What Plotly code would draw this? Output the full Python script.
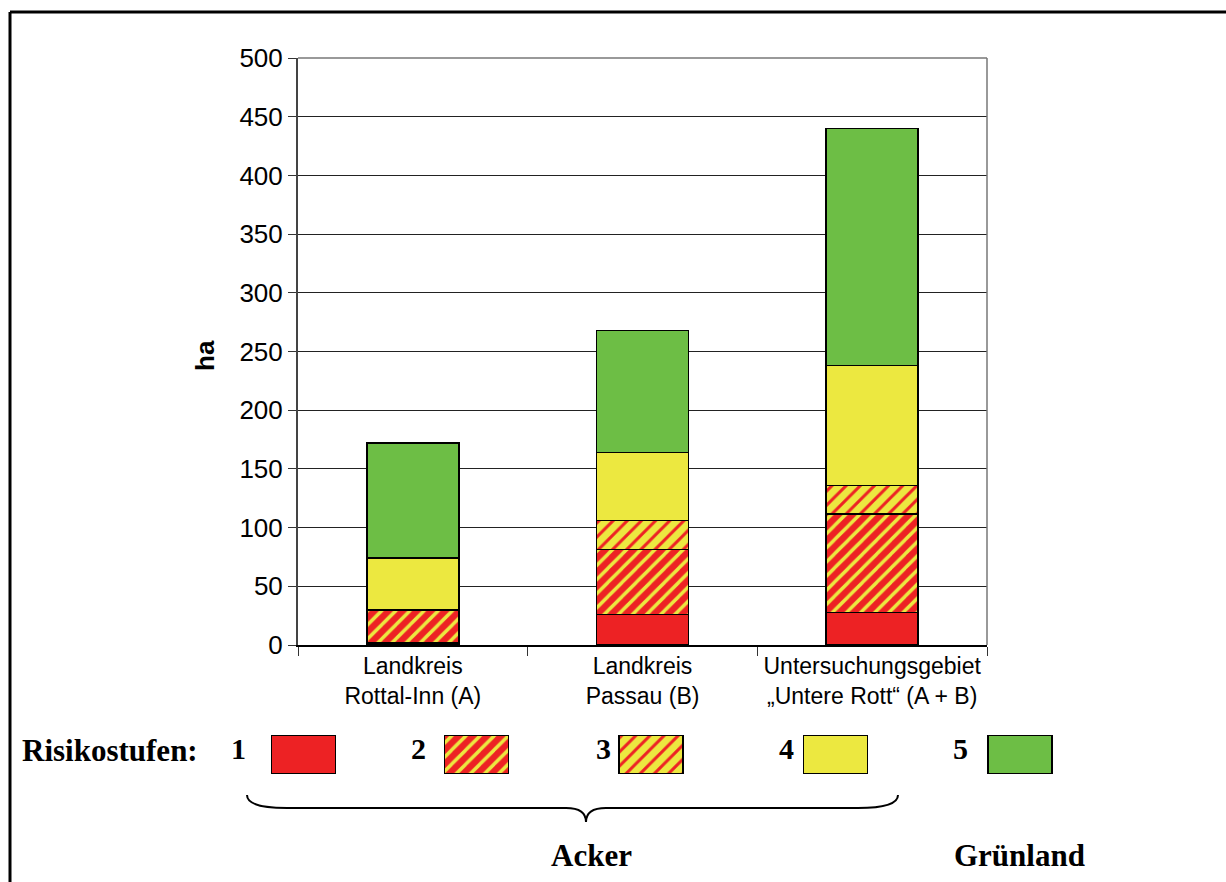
import plotly.graph_objects as go

W, H = 1226, 882

# --- data -------------------------------------------------------------
categories = ["Landkreis<br>Rottal-Inn (A)", "Landkreis<br>Passau (B)",
              "Untersuchungsgebiet<br>\u201eUntere Rott\u201c (A + B)"]
levels = ["1", "2", "3", "4", "5"]
stufe1 = [1.5, 26, 27.5]
stufe2 = [28.5, 55.5, 84]
stufe3 = [0, 24.5, 24.5]
stufe4 = [44, 58, 102]
stufe5 = [98, 104, 202]
series = [stufe1, stufe2, stufe3, stufe4, stufe5]
y_ticks = [0, 50, 100, 150, 200, 250, 300, 350, 400, 450, 500]

# --- styles -----------------------------------------------------------
RED, YEL, GRN = "#ED2224", "#ECE840", "#6DBE45"
fills = [RED, RED, YEL, YEL, GRN]
patterns = [
    None,
    dict(shape="/", bgcolor=RED, fgcolor=YEL, size=10, solidity=0.35, fillmode="replace"),
    dict(shape="/", bgcolor=YEL, fgcolor=RED, size=10, solidity=0.3, fillmode="replace"),
    None,
    None,
]

SANS = "Liberation Sans"
SERIF = "Liberation Serif"


def px(x):
    return x / W


def py(y):
    return 1 - y / H


fig = go.Figure()

for vals, col, pat in zip(series, fills, patterns):
    marker = dict(color=col, line=dict(color="black", width=1.5))
    if pat:
        marker["pattern"] = pat
    fig.add_trace(go.Bar(x=categories, y=vals, marker=marker, width=0.4,
                         showlegend=False, hoverinfo="skip"))

# legend swatches on a pixel-scaled helper axis
swatch_x = [303.5, 476.5, 651, 835.5, 1020]
for i, (col, pat) in enumerate(zip(fills, patterns)):
    marker = dict(color=col, line=dict(color="black", width=1.5))
    if pat:
        marker["pattern"] = pat
    fig.add_trace(go.Bar(x=[swatch_x[i]], y=[1], width=[64], marker=marker,
                         xaxis="x2", yaxis="y2", showlegend=False, hoverinfo="skip"))

fig.update_layout(
    width=W, height=H,
    margin=dict(l=0, r=0, t=0, b=0, pad=0, autoexpand=False),
    showlegend=False,
    paper_bgcolor="white", plot_bgcolor="white",
    barmode="stack", bargap=0.6,
    font=dict(family=SANS, color="black"),
    xaxis=dict(domain=[px(298), px(987)], showline=True, linecolor="black", linewidth=1.5,
               ticks="outside", tickson="boundaries", ticklen=9, tickcolor="#333",
               tickfont=dict(family=SANS, size=23), showgrid=False, automargin=False),
    yaxis=dict(domain=[py(645), py(58)], range=[0, 500], tickvals=y_ticks,
               showline=True, linecolor="#444", linewidth=2,
               ticks="outside", ticklen=8, tickcolor="#333",
               tickfont=dict(family=SANS, size=26), automargin=False,
               showgrid=True, gridcolor="#222", gridwidth=1, zeroline=False),
    xaxis2=dict(domain=[0, 1], range=[0, W], visible=False, anchor="y2", automargin=False),
    yaxis2=dict(domain=[py(774), py(735)], range=[0, 1], visible=False, anchor="x2",
                automargin=False),
)

shapes = [
    # plot area border (top / right)
    dict(type="line", xref="paper", yref="paper", x0=px(298), x1=px(987), y0=py(58), y1=py(58),
         line=dict(color="#777", width=1.5)),
    dict(type="line", xref="paper", yref="paper", x0=px(987), x1=px(987), y0=py(58), y1=py(645),
         line=dict(color="#777", width=1.5)),
    # outer frame
    dict(type="line", xref="paper", yref="paper", x0=px(10), x1=px(10), y0=py(12), y1=0,
         line=dict(color="black", width=3)),
    dict(type="line", xref="paper", yref="paper", x0=px(10), x1=1, y0=py(12), y1=py(12),
         line=dict(color="black", width=3)),
]

# curly brace below levels 1-4
bx0, bx1, bmid = 247, 898, 586
ytop, yline, ytip = 795, 808, 822
brace = (f"M {px(bx0)},{py(ytop)} "
         f"Q {px(bx0)},{py(yline)} {px(bx0 + 40)},{py(yline)} "
         f"L {px(bmid - 20)},{py(yline)} "
         f"Q {px(bmid)},{py(yline)} {px(bmid)},{py(ytip)} "
         f"Q {px(bmid)},{py(yline)} {px(bmid + 20)},{py(yline)} "
         f"L {px(bx1 - 40)},{py(yline)} "
         f"Q {px(bx1)},{py(yline)} {px(bx1)},{py(ytop)}")
shapes.append(dict(type="path", xref="paper", yref="paper", path=brace,
                   line=dict(color="black", width=2)))
fig.update_layout(shapes=shapes)

ann = [
    dict(text="<b>ha</b>", x=px(205), y=py(355), textangle=-90,
         font=dict(family=SANS, size=26)),
    dict(text="<b>Risikostufen:</b>", x=px(20), y=py(750), xanchor="left",
         font=dict(family=SERIF, size=31)),
    dict(text="<b>Acker</b>", x=px(591), y=py(855), font=dict(family=SERIF, size=31)),
    dict(text="<b>Gr\u00fcnland</b>", x=px(1019), y=py(855), font=dict(family=SERIF, size=31)),
]
num_x = [238, 418, 603, 786, 960]
for lab, xx in zip(levels, num_x):
    ann.append(dict(text=f"<b>{lab}</b>", x=px(xx), y=py(748),
                    font=dict(family=SERIF, size=30)))
for a in ann:
    a.update(xref="paper", yref="paper", showarrow=False)
    a.setdefault("xanchor", "center")
    a.setdefault("yanchor", "middle")
fig.update_layout(annotations=ann)

fig.write_html("out.html")
